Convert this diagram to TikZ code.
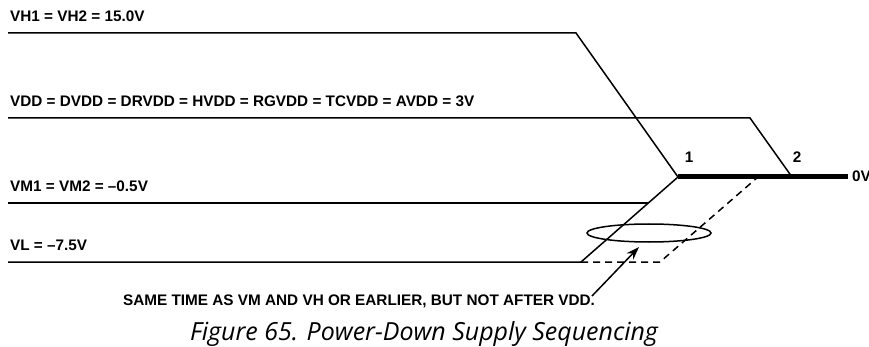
\documentclass[tikz,border=0pt]{standalone}
\usepackage{fontspec}
\setmainfont{Liberation Sans}
\newfontfamily\capfont{Open Sans}
\usetikzlibrary{arrows.meta}
\begin{document}
\begin{tikzpicture}[x=1pt,y=-1pt,
  sig/.style={line width=1.5pt,line join=miter},
  dsig/.style={line width=1.5pt,dash pattern=on 7pt off 5pt},
  lbl/.style={anchor=base west,inner sep=0pt,font=\fontsize{15.3}{18}\selectfont\bfseries},
  num/.style={anchor=base,inner sep=0pt,font=\fontsize{15.3}{18}\selectfont\bfseries}]
\useasboundingbox (0,0) rectangle (869,347);
% coordinates
\coordinate (vh0) at (8,33);   \coordinate (vh1) at (576,33);
\coordinate (vd0) at (8,118);  \coordinate (vd1) at (750,118); \coordinate (p2) at (792,177);
\coordinate (vm0) at (8,203);  \coordinate (vm1) at (648,203);
\coordinate (vl0) at (8,262);  \coordinate (vl1) at (581,262);
\coordinate (p1) at (678,177); \coordinate (z1) at (848,177);
\coordinate (dl) at (660,262); \coordinate (dt) at (758,177);
\coordinate (atail) at (592,296); \coordinate (atip) at (639,247);
% labels
\node[lbl] (lvh) at (10,21.5) {VH1 = VH2 = 15.0V};
\node[lbl] (lvd) at (10,106.5) {VDD = DVDD = DRVDD = HVDD = RGVDD = TCVDD = AVDD = 3V};
\node[lbl] (lvm) at (10,191.5) {VM1 = VM2 = –0.5V};
\node[lbl] (lvl) at (10,250.5) {VL = –7.5V};
\node[num] (n1) at (689,163) {1};
\node[num] (n2) at (797,163) {2};
\node[lbl] (n0) at (852,182) {0V};
% signals
\draw[sig] (vh0) -- (vh1) -- (p1);
\draw[sig] (vd0) -- (vd1) -- (p2);
\draw[sig] (vm0) -- (vm1);
\draw[sig] (vl0) -- (vl1) -- (p1);
\draw[line width=5pt] (p1) -- (z1);
\draw[dsig] (vl1) -- (dl) -- (dt);
% ellipse
\draw[line width=1.5pt] (649,233) ellipse [x radius=62, y radius=9];
\draw[line width=1.5pt,-{Stealth[length=13pt,width=9pt]}] (atail) -- (atip);
% note and caption
\node[lbl] (note) at (123,305) {SAME TIME AS VM AND VH OR EARLIER, BUT NOT AFTER VDD.};
\node[anchor=base,inner sep=0pt] (cap) at (424,340) {\resizebox{468pt}{!}{\capfont\itshape\fontsize{20}{24}\selectfont Figure 65. Power-Down Supply Sequencing}};
\end{tikzpicture}
\end{document}
